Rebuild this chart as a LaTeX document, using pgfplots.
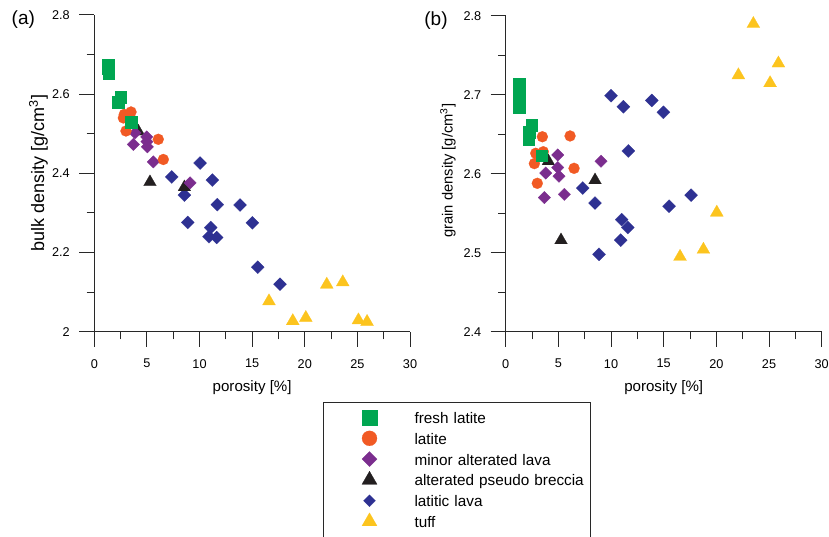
\documentclass[border=0pt]{standalone}
\usepackage{pgfplots}
\pgfplotsset{compat=1.18}
\usepackage{fontspec}
\setmainfont{Liberation Sans}
\definecolor{cgreen}{RGB}{0,166,81}
\definecolor{corange}{RGB}{241,90,36}
\definecolor{cpurple}{RGB}{123,45,142}
\definecolor{cblack}{RGB}{35,31,32}
\definecolor{cblue}{RGB}{46,49,146}
\definecolor{cyellow}{RGB}{252,196,30}
\definecolor{caxis}{RGB}{40,40,40}
\pgfplotsset{
  myaxis/.style={
    scale only axis,
    axis lines*=left,
    axis line style={caxis, line width=1pt},
    xmin=0, xmax=30,
    xtick={0,5,10,15,20,25,30},
    minor x tick num=1,
    minor y tick num=1,
    tick align=outside,
    major tick length=15pt,
    minor tick length=7.7pt,
    tick style={caxis, line width=1pt},
    tick label style={font=\fontsize{12.7}{15}\selectfont},
    xticklabel style={yshift=-9pt},
    yticklabel style={xshift=-6pt},
    /pgf/number format/assume math mode=true,
    clip=false,
    every axis x label/.style={at={(axis description cs:0.5,-0.178)}, anchor=center, font=\fontsize{15.1}{18}\selectfont},
  },
  sq/.style={only marks, mark=square*, mark size=5.75pt, color=cgreen, mark options={line width=0.2pt}},
  ci/.style={only marks, mark=*, mark size=5.5pt, color=corange, mark options={line width=0.2pt}},
  pd/.style={only marks, mark=square*, mark size=4.4pt, color=cpurple, mark options={rotate=45, line width=0.2pt}},
  bt/.style={only marks, mark=triangle*, mark size=7.3pt, color=cblack, mark options={line width=0.2pt}},
  bd/.style={only marks, mark=square*, mark size=4.6pt, color=cblue, mark options={rotate=45, line width=0.2pt}},
  yt/.style={only marks, mark=triangle*, mark size=7.5pt, color=cyellow, mark options={line width=0.2pt}},
}
\begin{document}
\begin{tikzpicture}
\useasboundingbox (0pt,0pt) rectangle (829pt,537pt);
% ---------------- (a) bulk density ----------------
\begin{axis}[myaxis,
  at={(94.3pt,205.3pt)}, anchor=south west,
  width=315.7pt, height=316.7pt,
  ymin=2, ymax=2.8,
  ytick={2,2.2,2.4,2.6,2.8},
  yticklabels={2,2.2,2.4,2.6,2.8},
  xlabel={porosity [\%]},
  every axis y label/.style={at={(axis description cs:-0.1767,0.501)}, rotate=90, anchor=center, font=\fontsize{18}{21}\selectfont},
  ylabel={bulk density [g/cm\textsuperscript{3}]},
  legend image code/.code={\path[draw=none,fill=none] (-43.3pt,0pt) -- (43pt,0pt); \draw[#1] plot coordinates {(0pt,0pt)};},
  legend style={at={(axis description cs:0.7235,-0.222)}, anchor=north west,
    draw=caxis, line width=1pt, inner xsep=3pt, inner ysep=5.5pt,
    font=\fontsize{15.3}{18}\selectfont, row sep=1.8pt, column sep=0pt,
    nodes={inner sep=2pt, text height=13.5pt, text depth=1.5pt, text width=171pt, align=left},
    cells={anchor=west}},
]
\addplot[yt, forget plot] coordinates {(16.6,2.077) (22.09,2.119) (23.61,2.125) (18.86,2.027) (20.1,2.035) (25.1,2.029) (25.92,2.025)};
\addplot[bd, forget plot] coordinates {(10.05,2.426) (7.36,2.391) (11.22,2.383) (8.56,2.345) (11.69,2.321) (13.85,2.320) (8.88,2.276) (15.02,2.275) (11.06,2.263) (10.90,2.240) (11.63,2.238) (15.53,2.163) (17.65,2.120)};
\addplot[bt, forget plot] coordinates {(4.18,2.506) (5.29,2.378) (8.56,2.365)};
\addplot[pd, forget plot] coordinates {(3.87,2.502) (4.98,2.492) (5.0,2.480) (3.71,2.473) (5.04,2.467) (5.61,2.429) (9.10,2.376)};
\addplot[ci, forget plot] coordinates {(3.49,2.555) (2.85,2.549) (2.76,2.540) (3.01,2.507) (6.08,2.486) (6.56,2.435)};
\addplot[sq, forget plot] coordinates {(1.33,2.675) (1.33,2.665) (1.35,2.652) (2.28,2.580) (2.51,2.593) (3.52,2.530)};
\addlegendimage{mark=square*, mark size=7.5pt, color=cgreen, mark options={line width=0.2pt}}
\addlegendentry{fresh latite}
\addlegendimage{mark=*, mark size=7.5pt, color=corange, mark options={line width=0.2pt}}
\addlegendentry{latite}
\addlegendimage{mark=square*, mark size=5.3pt, color=cpurple, mark options={rotate=45, line width=0.2pt}}
\addlegendentry{minor alterated lava}
\addlegendimage{mark=triangle*, mark size=8.7pt, color=cblack, mark options={line width=0.2pt}}
\addlegendentry{alterated pseudo breccia}
\addlegendimage{mark=square*, mark size=4.2pt, color=cblue, mark options={rotate=45, line width=0.2pt}}
\addlegendentry{latitic lava}
\addlegendimage{mark=triangle*, mark size=8.7pt, color=cyellow, mark options={line width=0.2pt}}
\addlegendentry{tuff}
\addlegendimage{empty legend}
\addlegendentry{}
\end{axis}
% ---------------- (b) grain density ----------------
\begin{axis}[myaxis,
  at={(505.7pt,205.3pt)}, anchor=south west,
  width=316pt, height=315.7pt,
  ymin=2.4, ymax=2.8,
  ytick={2.4,2.5,2.6,2.7,2.8},
  yticklabels={2.4,2.5,2.6,2.7,2.8},
  xlabel={porosity [\%]},
  every axis y label/.style={at={(axis description cs:-0.1826,0.51)}, rotate=90, anchor=center, font=\fontsize{14.7}{17}\selectfont},
  ylabel={grain density [g/cm\textsuperscript{3}]},
]
\addplot[yt] coordinates {(23.51,2.790) (25.89,2.740) (22.09,2.725) (25.1,2.715) (20.04,2.551) (18.77,2.504) (16.55,2.495)};
\addplot[bd] coordinates {(10.0,2.699) (11.17,2.685) (13.87,2.693) (14.97,2.678) (11.64,2.629) (7.31,2.582) (8.48,2.563) (15.51,2.559) (11.01,2.542) (11.59,2.532) (10.92,2.516) (8.86,2.498) (17.6,2.573)};
\addplot[bt] coordinates {(4.05,2.616) (8.48,2.592) (5.25,2.516)};
\addplot[pd] coordinates {(4.94,2.624) (9.05,2.616) (4.94,2.608) (3.80,2.601) (5.06,2.597) (5.57,2.574) (3.67,2.570)};
\addplot[ci] coordinates {(3.48,2.647) (6.11,2.648) (2.85,2.626) (3.57,2.628) (2.72,2.613) (6.49,2.607) (3.0,2.588)};
\addplot[sq] coordinates {(1.26,2.714) (1.26,2.706) (1.26,2.691) (1.26,2.684) (2.47,2.662) (2.24,2.653) (2.15,2.644) (3.42,2.623)};
\end{axis}
\node[font=\fontsize{19}{22}\selectfont] at (23.3pt,517.5pt) {(a)};
\node[font=\fontsize{19}{22}\selectfont] at (436pt,516pt) {(b)};
\end{tikzpicture}
\end{document}
